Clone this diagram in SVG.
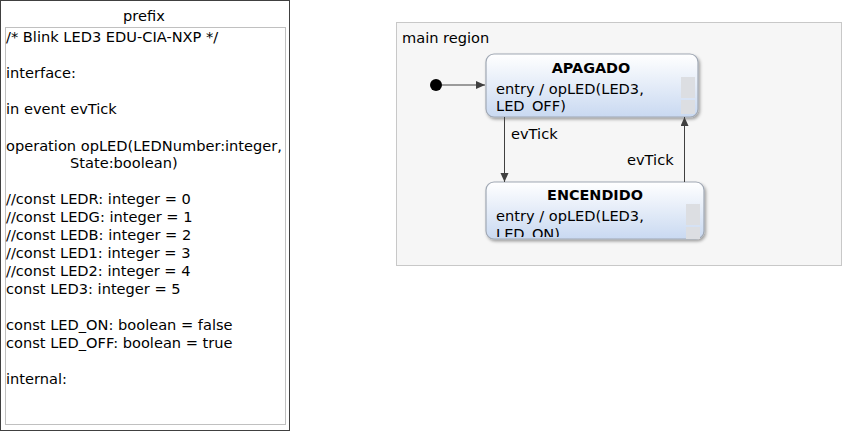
<svg xmlns="http://www.w3.org/2000/svg" width="851" height="439" viewBox="0 0 851 439">
<defs>
<style>
text{font-family:"DejaVu Sans","Liberation Sans",sans-serif;font-size:14.6px;fill:#000}
.title{font-weight:bold;text-anchor:middle;font-size:14.4px}
.conn{stroke:#404040;stroke-width:1;fill:none}
.state{stroke:#a0a8b4;stroke-width:1.2;fill:url(#sg)}
.scr{fill:#dcdee2}
</style>
<linearGradient id="sg" x1="0" y1="0" x2="0" y2="1">
<stop offset="0" stop-color="#ffffff"/>
<stop offset="1" stop-color="#c9d9f1"/>
</linearGradient>
<filter id="sh" x="-10%" y="-10%" width="130%" height="140%">
<feDropShadow dx="1.5" dy="2" stdDeviation="1.5" flood-color="#000" flood-opacity="0.35"/>
</filter>
<marker id="ah" markerWidth="10" markerHeight="10" refX="9" refY="4" orient="auto" markerUnits="userSpaceOnUse">
<path d="M0,0 L9,4 L0,8 z" fill="#404040"/>
</marker>
<clipPath id="c1"><rect x="486" y="54" width="212" height="58.6"/></clipPath>
<clipPath id="c2"><rect x="486" y="182" width="218" height="55"/></clipPath>
</defs>
<rect width="851" height="439" fill="#ffffff"/>
<g id="prefix">
<rect x="0.5" y="0.5" width="289" height="430" fill="#ffffff" stroke="#404040"/>
<text x="144" y="21" text-anchor="middle">prefix</text>
<rect x="5.5" y="27.5" width="280" height="397" fill="#ffffff" stroke="#c0c0c0"/>
<g>
<text x="6" y="42">/* Blink LED3 EDU-CIA-NXP */</text>
<text x="6" y="78">interface:</text>
<text x="6" y="114">in event evTick</text>
<text x="6" y="151">operation opLED(LEDNumber:integer,</text>
<text x="70" y="168">State:boolean)</text>
<text x="6" y="204">//const LEDR: integer = 0</text>
<text x="6" y="222">//const LEDG: integer = 1</text>
<text x="6" y="240">//const LEDB: integer = 2</text>
<text x="6" y="258">//const LED1: integer = 3</text>
<text x="6" y="276">//const LED2: integer = 4</text>
<text x="6" y="294">const LED3: integer = 5</text>
<text x="6" y="330">const LED_ON: boolean = false</text>
<text x="6" y="348">const LED_OFF: boolean = true</text>
<text x="6" y="384">internal:</text>
</g>
</g>
<g id="main_region">
<rect x="396.5" y="22.5" width="445" height="243" fill="#f6f6f6" stroke="#c8c8c8"/>
<text x="402" y="43">main region</text>
</g>
<g id="initial">
<circle cx="436" cy="85" r="6" fill="#000"/>
</g>
<g id="APAGADO">
<rect class="state" x="486" y="54" width="212" height="63" rx="8" filter="url(#sh)"/>
<text class="title" x="591" y="73">APAGADO</text>
<g clip-path="url(#c1)">
<text x="496" y="94">entry / opLED(LED3,</text>
<text x="496" y="111">LED_OFF)</text>
</g>
<rect class="scr" x="681" y="77" width="14" height="21"/>
<rect class="scr" x="681" y="100" width="14" height="14"/>
</g>
<g id="ENCENDIDO">
<rect class="state" x="486" y="182" width="218" height="57" rx="8" filter="url(#sh)"/>
<text class="title" x="595" y="200">ENCENDIDO</text>
<g clip-path="url(#c2)">
<text x="496" y="221">entry / opLED(LED3,</text>
<text x="496" y="239">LED_ON)</text>
</g>
<rect class="scr" x="686" y="204" width="14" height="21"/>
<rect class="scr" x="686" y="227" width="14" height="12"/>
</g>
<g id="connectors">
<line class="conn" x1="442" y1="85" x2="485" y2="85" marker-end="url(#ah)"/>
<line class="conn" x1="504.5" y1="117" x2="504.5" y2="182" marker-end="url(#ah)"/>
<text x="511" y="139">evTick</text>
<line class="conn" x1="684.5" y1="182" x2="684.5" y2="117" marker-end="url(#ah)"/>
<text x="627" y="165">evTick</text>
</g>
</svg>
